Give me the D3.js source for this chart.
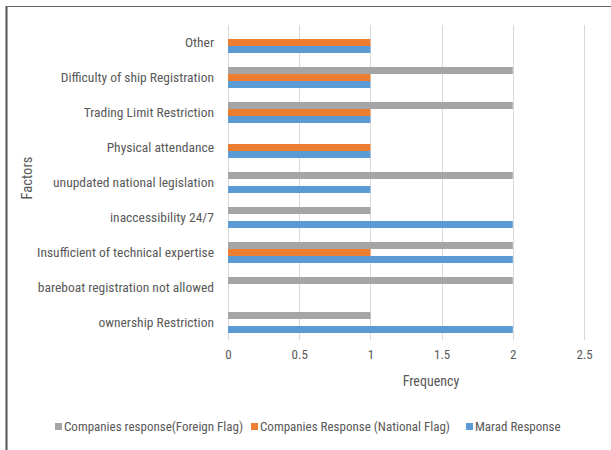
<!DOCTYPE html>
<html>
<head>
<meta charset="utf-8">
<script src="https://cdn.jsdelivr.net/npm/d3@7/dist/d3.min.js"></script>
<style>
  html, body { margin: 0; padding: 0; background: #fff; }
  svg { display: block; }
  text { font-family: "Liberation Sans Narrow", "Roboto Condensed", Roboto, "Liberation Sans", sans-serif; fill: #595959; }
</style>
</head>
<body>
<svg id="chart" width="611" height="450"></svg>
<script>
// Factors listed top to bottom
const factors = [
  "Other",
  "Difficulty of ship Registration",
  "Trading Limit Restriction",
  "Physical attendance",
  "unupdated national legislation",
  "inaccessibility 24/7",
  "Insufficient of technical expertise",
  "bareboat registration not allowed",
  "ownership Restriction"
];
const seriesNames = [
  "Companies response(Foreign Flag)",
  "Companies Response (National Flag)",
  "Marad Response"
];
const foreignFlag = [0, 2, 2, 0, 2, 1, 2, 2, 1];
const nationalFlag = [1, 1, 1, 1, 0, 0, 1, 0, 0];
const maradResponse = [1, 1, 1, 1, 1, 2, 2, 0, 2];
const xTicks = [0, 0.5, 1, 1.5, 2, 2.5];
const colors = ["#A5A5A5", "#ED7D31", "#5B9BD5"];

const seriesValues = [foreignFlag, nationalFlag, maradResponse];

const svg = d3.select("#chart");

// frame
svg.append("line").attr("x1", 6.5).attr("x2", 6.5).attr("y1", 6).attr("y2", 450)
  .attr("stroke", "#555").attr("stroke-width", 2);
svg.append("line").attr("x1", 6).attr("x2", 611).attr("y1", 6.5).attr("y2", 6.5)
  .attr("stroke", "#666").attr("stroke-width", 1);

const plot = { left: 228, right: 584, top: 25, bottom: 340 };

const x = d3.scaleLinear().domain([0, 2.5]).range([plot.left, plot.right]);
const y = d3.scaleBand().domain(factors).range([plot.top, plot.bottom]).paddingInner(0.4).paddingOuter(0.2);
const ySub = d3.scaleBand().domain(seriesNames).range([0, y.bandwidth()]);

// gridlines
svg.append("g").selectAll("line").data(xTicks).join("line")
  .attr("x1", d => Math.round(x(d)) + 0.5).attr("x2", d => Math.round(x(d)) + 0.5)
  .attr("y1", plot.top).attr("y2", plot.bottom)
  .attr("stroke", "#D9D9D9").attr("stroke-width", 1);

// bars
const groups = svg.append("g").selectAll("g").data(factors).join("g")
  .attr("transform", d => `translate(0,${y(d)})`);
groups.selectAll("rect")
  .data((f, i) => seriesNames.map((s, j) => ({ s, v: seriesValues[j][i], c: colors[j] })))
  .join("rect")
  .attr("x", x(0))
  .attr("y", d => ySub(d.s))
  .attr("width", d => x(d.v) - x(0))
  .attr("height", ySub.bandwidth())
  .attr("fill", d => d.c);

// x axis tick labels
const xAxis = d3.axisBottom(x).tickValues(xTicks).tickSize(0).tickPadding(0)
  .tickFormat(d => String(d));
const gx = svg.append("g").attr("transform", `translate(0,${plot.bottom + 10})`).call(xAxis);
gx.select(".domain").remove();
gx.selectAll("text").attr("font-size", 13).attr("fill", "#595959")
  .style("font-family", null).attr("dy", "0.71em");

// y axis category labels
const yAxis = d3.axisLeft(y).tickSize(0).tickPadding(14);
const gy = svg.append("g").attr("transform", `translate(${plot.left},0)`).call(yAxis);
gy.select(".domain").remove();
gy.selectAll("text").attr("font-size", 13.5).attr("fill", "#595959").style("font-family", null);

// axis titles
svg.append("text").attr("x", 431).attr("y", 386).attr("text-anchor", "middle")
  .attr("font-size", 14).text("Frequency");
svg.append("text").attr("transform", "translate(32,178) rotate(-90)")
  .attr("text-anchor", "middle").attr("font-size", 14.5).text("Factors");

// legend
const legendX = [55, 251, 466];
const legend = svg.append("g").selectAll("g").data(seriesNames).join("g")
  .attr("transform", (d, i) => `translate(${legendX[i]},423)`);
legend.append("rect").attr("width", 7).attr("height", 7).attr("fill", (d, i) => colors[i]);
legend.append("text").attr("x", 9).attr("y", 8).attr("font-size", 13).text(d => d);
</script>
</body>
</html>
